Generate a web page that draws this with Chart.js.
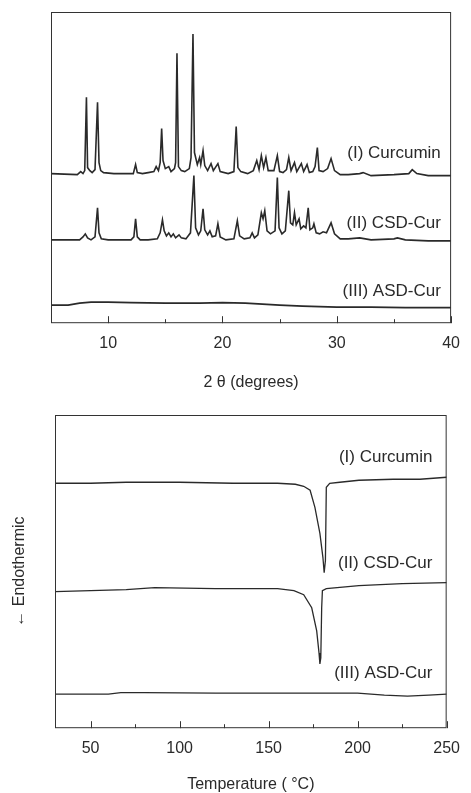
<!DOCTYPE html>
<html>
<head>
<meta charset="utf-8">
<script src="https://cdn.jsdelivr.net/npm/chart.js@4.4.0/dist/chart.umd.min.js"></script>
<style>
  html, body { margin: 0; padding: 0; background: #fff; overflow: hidden; }
  canvas { display: block; position: absolute; left: 0; }
  #xrd { top: 0; }
  #dsc { top: 400px; }
</style>
</head>
<body>
<canvas id="xrd" width="471" height="400"></canvas>
<canvas id="dsc" width="471" height="400"></canvas>
<script>
// XRD patterns, [2theta, intensity a.u.] (curves are stacked)
const curcuminXrd = [
  [5,149],[7.3,148],[7.6,151],[7.8,149],[7.95,152],[8.1,225],[8.2,155],[8.4,152],[8.6,150],[8.85,153],
  [9.07,220],[9.2,160],[9.35,152],[9.6,150],[10.5,149],[12.2,149],[12.4,158],[12.55,150],[13,149],[13.5,150],
  [14.0,151],[14.2,156],[14.4,152],[14.55,160],[14.68,194],[14.8,162],[15.0,154],[15.3,156],[15.5,151],[15.8,154],
  [15.9,160],[16.02,269],[16.15,156],[16.4,152],[16.7,151],[17.1,154],[17.25,165],[17.42,288],[17.55,170],[17.8,158],
  [18.0,165],[18.1,158],[18.3,172],[18.45,157],[18.7,152],[19.0,159],[19.2,152],[19.6,159],[19.8,151],[20.5,149],
  [21.0,151],[21.2,196],[21.35,155],[21.6,151],[22.2,149],[22.7,152],[23.0,162],[23.2,153],[23.4,167],[23.6,155],
  [23.8,165],[24.0,152],[24.5,152],[24.8,167],[25.0,151],[25.3,150],[25.6,153],[25.8,165],[26.0,152],[26.3,160],
  [26.5,151],[26.9,159],[27.1,151],[27.4,158],[27.6,150],[27.9,151],[28.1,156],[28.3,175],[28.45,152],[28.8,151],
  [29.2,154],[29.5,164],[29.8,152],[30.3,148],[31,148],[32,149],[32.3,150],[33,147],[35,148],[36.3,149],
  [36.6,153],[37,149],[38,147],[40,147]
];
const csdXrd = [
  [5,83],[7.5,83],[7.8,86],[8.0,89],[8.2,85],[8.5,83],[8.85,86],[9.07,115],[9.2,90],[9.4,84],
  [10,83],[12,83],[12.25,86],[12.4,104],[12.55,86],[12.8,83],[13.5,83],[14.3,84],[14.55,90],[14.75,103],
  [14.9,92],[15.1,87],[15.3,90],[15.5,86],[15.7,89],[15.9,85],[16.2,88],[16.4,85],[16.8,84],[17.2,90],
  [17.5,147],[17.65,95],[17.9,88],[18.1,92],[18.3,114],[18.45,93],[18.7,88],[18.9,92],[19.1,86],[19.4,87],
  [19.6,99],[19.8,86],[20.3,83],[21.0,84],[21.3,102],[21.5,87],[21.9,84],[22.4,85],[22.6,90],[22.8,85],
  [23.1,88],[23.4,110],[23.55,104],[23.7,112],[23.9,92],[24.2,89],[24.6,92],[24.8,145],[24.95,95],[25.2,89],
  [25.5,92],[25.8,132],[25.95,100],[26.15,98],[26.3,110],[26.45,98],[26.7,104],[26.85,94],[27.1,97],[27.3,95],
  [27.5,115],[27.65,93],[27.9,95],[28.0,99],[28.2,90],[28.5,89],[28.8,91],[29.1,90],[29.5,100],[29.8,89],
  [30.3,84],[31,84],[32,85],[33,83],[35,84],[35.3,85],[36,83],[38,82],[40,82]
];
const asdXrd = [
  [5,18],[6.5,18],[7.5,20],[8.5,21],[10,21],[12,20.5],[15,20],[18,20],[20,20.5],[22,20],
  [23.5,19],[25,18],[27,17],[30,16],[33,16],[36,15.5],[40,15.5]
];

// DSC curves, [temperature, heat flow a.u.] (stacked, endotherm down)
const curcuminDsc = [
  [30,244],[50,244],[70,245],[100,245],[130,244],[155,244],[165,243],[169.7,241],[173.3,237],[176,220],
  [178.8,194],[180.5,170],[181.2,155],[181.9,167],[182.4,240],[184.3,244],[190,245],[200.7,247],[220,248],[235,248],
  [250,250]
];
const csdDsc = [
  [30,136],[50,137],[70,138],[86,140],[120,139],[155,139],[164.2,137],[169.7,133],[174.2,120],[177,97],
  [178.3,75],[178.8,64],[179.3,70],[179.8,120],[180.2,137],[182.4,139],[200.7,142],[225,144],[250,145]
];
const asdDsc = [
  [30,34],[45,34],[60,34],[67,35.5],[80,35.5],[120,35],[160,35],[200,35],[215,33],[228,32],
  [240,33],[250,34]
];

const xrdTicks = [10, 20, 30, 40];
const xrdMinor = [15, 25, 35];
const dscTicks = [50, 100, 150, 200, 250];
const dscMinor = [75, 125, 175, 225];

const xrdNames = ['(I) Curcumin', '(II) CSD-Cur', '(III) ASD-Cur'];
const xrdNameY = [169, 100, 32];
const dscNames = ['(I) Curcumin', '(II) CSD-Cur', '(III) ASD-Cur'];
const dscNameY = [270, 164, 55];

const FONT = '"Liberation Sans", Arial, sans-serif';
const INK = '#2a2a2a';

const toPoints = arr => arr.map(([x, y]) => ({x, y}));

// box around the plot, inward ticks, curve labels
const framePlugin = {
  id: 'framePlugin',
  afterDatasetsDraw(chart, args, opts) {
    const {ctx, chartArea: a, scales} = chart;
    const x = scales.x, y = scales.y;
    ctx.save();
    ctx.strokeStyle = '#333';
    ctx.lineWidth = 1;
    ctx.strokeRect(a.left + 0.5, a.top + 0.5, a.width - 1, a.height - 1);
    ctx.beginPath();
    opts.major.forEach(v => {
      const px = Math.round(x.getPixelForValue(v)) + 0.5;
      ctx.moveTo(px, a.bottom);
      ctx.lineTo(px, a.bottom - 7);
    });
    opts.minor.forEach(v => {
      const px = Math.round(x.getPixelForValue(v)) + 0.5;
      ctx.moveTo(px, a.bottom);
      ctx.lineTo(px, a.bottom - 4);
    });
    ctx.stroke();
    ctx.font = '17px ' + FONT;
    ctx.fillStyle = INK;
    ctx.textAlign = 'right';
    ctx.textBaseline = 'middle';
    opts.names.forEach((t, i) => {
      ctx.fillText(t, x.getPixelForValue(opts.nameX), y.getPixelForValue(opts.nameY[i]));
    });
    ctx.restore();
  }
};

function lineSet(points, width) {
  return {
    data: toPoints(points),
    borderColor: INK,
    borderWidth: width,
    pointRadius: 0,
    tension: 0,
    fill: false,
  };
}

function xAxis(min, max, ticks, title, titleTop) {
  return {
    type: 'linear',
    min,
    max,
    afterBuildTicks: s => { s.ticks = ticks.map(v => ({value: v})); },
    grid: { display: false, drawTicks: false },
    border: { display: false },
    ticks: { color: INK, padding: 11, font: { family: FONT, size: 16 } },
    title: {
      display: true,
      text: title,
      color: INK,
      font: { family: FONT, size: 16 },
      padding: { top: titleTop, bottom: 0 },
    },
  };
}

new Chart(document.getElementById('xrd').getContext('2d'), {
  type: 'line',
  data: {
    datasets: [
      lineSet(curcuminXrd, 1.6),
      lineSet(csdXrd, 1.6),
      lineSet(asdXrd, 1.9),
    ],
  },
  options: {
    responsive: false,
    animation: false,
    devicePixelRatio: 1,
    layout: { padding: { left: 51, right: 19, top: 12, bottom: 7.4 } },
    plugins: {
      legend: { display: false },
      tooltip: { enabled: false },
      framePlugin: { major: xrdTicks, minor: xrdMinor, names: xrdNames, nameX: 39.1, nameY: xrdNameY },
    },
    scales: {
      x: xAxis(5, 40, xrdTicks, '2 θ (degrees)', 9),
      y: { display: false, min: 0, max: 310 },
    },
  },
  plugins: [framePlugin],
});

new Chart(document.getElementById('dsc').getContext('2d'), {
  type: 'line',
  data: {
    datasets: [
      lineSet(curcuminDsc, 1.3),
      lineSet(csdDsc, 1.3),
      lineSet(asdDsc, 1.3),
    ],
  },
  options: {
    responsive: false,
    animation: false,
    devicePixelRatio: 1,
    layout: { padding: { left: 4, right: 14, top: 15, bottom: 5.4 } },
    plugins: {
      legend: { display: false },
      tooltip: { enabled: false },
      framePlugin: { major: dscTicks, minor: dscMinor, names: dscNames, nameX: 242, nameY: dscNameY },
    },
    scales: {
      x: xAxis(30, 250, dscTicks, 'Temperature ( °C)', 6),
      y: {
        min: 0,
        max: 312,
        grid: { display: false, drawTicks: false },
        border: { display: false },
        ticks: { display: false },
        title: {
          display: true,
          text: '← Endothermic',
          color: INK,
          font: { family: FONT, size: 16 },
          padding: { top: 6, bottom: 25.8 },
        },
      },
    },
  },
  plugins: [framePlugin],
});
</script>
</body>
</html>
